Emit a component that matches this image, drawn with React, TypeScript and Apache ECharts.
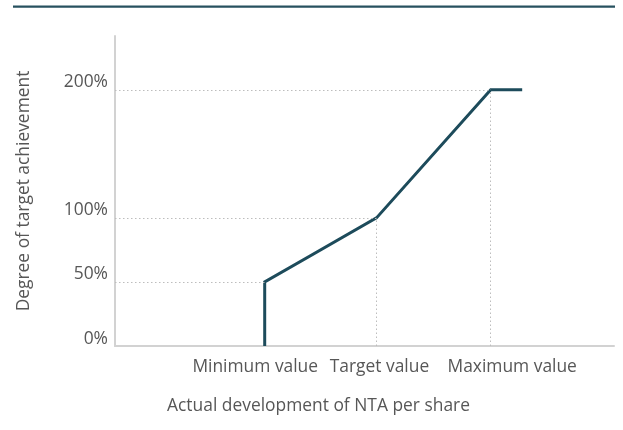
import React, { useEffect, useRef } from "react";
import * as echarts from "echarts";

// Data
const pointX = [30, 30, 52.4, 75.3, 81.6];
const pointY = [0, 50, 100, 200, 200];
const xLabelValues = [28.1, 53, 79.6];
const xLabelTexts = ["Minimum value", "Target value", "Maximum value"];
const yTickValues = [0, 50, 100, 200];
const yTickTexts = ["0%", "50%", "100%", "200%"];
const xName = "Actual development of NTA per share";
const yName = "Degree of target achievement";

const FONT = "Open Sans";
const FS = 17.4;
const TEXT = "#575757";
const LINE = "#1d4b5b";

export default function App() {
  const ref = useRef<HTMLDivElement>(null);
  useEffect(() => {
    if (!ref.current) return;
    const chart = echarts.init(ref.current, undefined, { renderer: "svg" });
    const drop: any[] = [];
    for (let i = 1; i <= 3; i++) {
      drop.push([{ coord: [0, pointY[i]] }, { coord: [pointX[i], pointY[i]] }]);
      if (i > 1) drop.push([{ coord: [pointX[i], 0] }, { coord: [pointX[i], pointY[i]] }]);
    }
    const xMap: Record<string, string> = {};
    xLabelValues.forEach((v, i) => (xMap[String(v)] = xLabelTexts[i]));
    const yMap: Record<string, string> = {};
    yTickValues.forEach((v, i) => (yMap[String(v)] = yTickTexts[i]));

    chart.setOption({
      animation: false,
      textStyle: { fontFamily: FONT },
      grid: { left: 115, right: 9, top: 36, bottom: 84 },
      graphic: [
        {
          type: "line",
          shape: { x1: 13, y1: 6.7, x2: 615, y2: 6.7 },
          style: { stroke: "#27515f", lineWidth: 2.2 },
        },
      ],
      xAxis: {
        type: "value",
        min: 0,
        max: 100,
        name: xName,
        nameLocation: "middle",
        nameGap: 49,
        nameTextStyle: {
          color: TEXT,
          fontSize: FS,
          fontFamily: FONT,
          padding: [0, 92, 0, 0],
        },
        axisLine: { show: true, lineStyle: { color: "#d2d2d2", width: 2 } },
        axisTick: { show: false },
        splitLine: { show: false },
        axisLabel: {
          customValues: xLabelValues,
          formatter: (v: number) => xMap[String(v)] ?? "",
          color: TEXT,
          fontSize: FS,
          fontFamily: FONT,
          margin: 10,
        },
      },
      yAxis: {
        type: "value",
        min: 0,
        max: 242,
        name: yName,
        nameLocation: "middle",
        nameGap: 85,
        nameTextStyle: { color: TEXT, fontSize: FS, fontFamily: FONT },
        axisLine: { show: true, lineStyle: { color: "#d2d2d2", width: 2 } },
        axisTick: { show: false },
        splitLine: { show: false },
        axisLabel: {
          customValues: yTickValues,
          formatter: (v: number) => yMap[String(v)] ?? "",
          color: TEXT,
          fontSize: FS,
          fontFamily: FONT,
          margin: 7,
          verticalAlign: "bottom",
          padding: [0, 0, 1, 0],
        },
      },
      series: [
        {
          type: "line",
          data: [],
          z: 1,
          silent: true,
          markLine: {
            silent: true,
            symbol: "none",
            label: { show: false },
            lineStyle: { type: [1.5, 2.5], color: "#bdbdbd", width: 1 },
            data: drop,
          },
        },
        {
          type: "line",
          z: 3,
          data: pointX.map((x, i) => [x, pointY[i]]),
          symbol: "none",
          lineStyle: { color: LINE, width: 3, join: "miter" },
        },
      ],
    });
    return () => chart.dispose();
  }, []);
  return (
    <div
      ref={ref}
      style={{ position: "fixed", left: 0, top: 0, width: 623, height: 430 }}
    />
  );
}
